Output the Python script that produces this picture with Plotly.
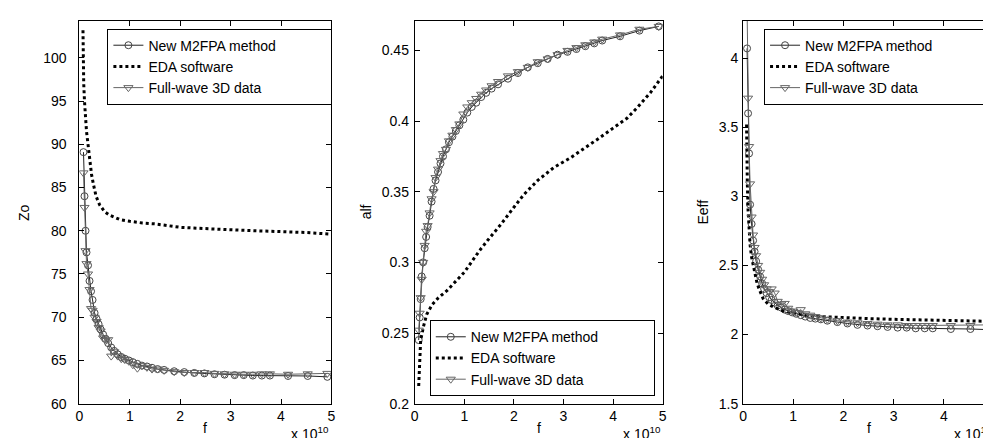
import plotly.graph_objects as go

# ---------------- data (f in units of 1e10 Hz) ----------------
freq = [0.08, 0.10, 0.12, 0.14, 0.17, 0.20, 0.23, 0.26, 0.30, 0.34, 0.38, 0.42,
        0.47, 0.52, 0.57, 0.63, 0.69, 0.76, 0.83, 0.90, 0.98, 1.06, 1.15, 1.24,
        1.34, 1.44, 1.55, 1.68, 1.88, 2.08, 2.28, 2.48, 2.68, 2.88, 3.08, 3.26,
        3.44, 3.62, 3.78, 4.14, 4.53, 4.92]

freq_eda = [0.07, 0.075, 0.085, 0.10, 0.12, 0.14, 0.17, 0.20, 0.24, 0.28, 0.33,
            0.40, 0.50, 0.60, 0.80, 1.00, 1.25, 1.50, 2.00, 2.50, 3.00, 3.50,
            4.00, 4.50, 5.00]

# Zo
zo_m2fpa = [89.1, 84.0, 80.0, 77.5, 76.0, 74.2, 73.0, 72.0, 70.5, 69.8, 69.2, 68.6,
            68.0, 67.5, 67.0, 66.5, 66.1, 65.7, 65.4, 65.2, 65.0, 64.8, 64.6, 64.4,
            64.3, 64.15, 64.0, 63.9, 63.75, 63.65, 63.55, 63.5, 63.4, 63.35, 63.3, 63.3,
            63.25, 63.25, 63.25, 63.2, 63.2, 63.1]
zo_fullwave = [86.7, 82.7, 77.7, 76.2, 75.0, 73.2, 71.0, 70.8, 70.0, 69.5, 68.8, 68.4,
               67.6, 67.3, 67.4, 65.5, 66.0, 65.5, 65.2, 65.1, 64.9, 64.5, 64.1, 64.4,
               64.2, 64.0, 64.0, 63.85, 63.7, 63.6, 63.6, 63.6, 63.5, 63.45, 63.4, 63.4,
               63.4, 63.45, 63.45, 63.4, 63.45, 63.5]
zo_eda = [103.2, 100.0, 97.0, 95.0, 93.0, 91.5, 90.0, 88.5, 86.5, 85.3, 84.0,
          83.0, 82.2, 81.8, 81.3, 81.1, 80.9, 80.8, 80.4, 80.25, 80.1, 80.0,
          79.9, 79.8, 79.6]

# alf
alf_m2fpa = [0.245, 0.261, 0.274, 0.290, 0.300, 0.310, 0.318, 0.325, 0.333, 0.343, 0.352, 0.358,
             0.364, 0.370, 0.375, 0.380, 0.385, 0.389, 0.393, 0.397, 0.401, 0.406, 0.410, 0.413,
             0.417, 0.420, 0.423, 0.426, 0.430, 0.434, 0.438, 0.441, 0.444, 0.447, 0.449, 0.451,
             0.453, 0.455, 0.457, 0.460, 0.464, 0.467]
alf_fullwave = [0.252, 0.264, 0.275, 0.288, 0.300, 0.312, 0.322, 0.326, 0.335, 0.345, 0.350, 0.360,
                0.366, 0.372, 0.377, 0.380, 0.386, 0.390, 0.394, 0.398, 0.405, 0.410, 0.413, 0.416,
                0.419, 0.422, 0.425, 0.428, 0.432, 0.435, 0.438, 0.442, 0.444, 0.447, 0.450, 0.452,
                0.454, 0.456, 0.458, 0.461, 0.465, 0.467]
freq_eda_alf = [0.08, 0.09, 0.10, 0.12, 0.18, 0.24, 0.35, 0.48, 0.65, 0.82, 1.00, 1.14,
                1.30, 1.48, 1.74, 2.00, 2.20, 2.48, 2.80, 3.14, 3.40, 3.68, 4.00, 4.28,
                4.50, 4.75, 5.00]
alf_eda = [0.2125, 0.225, 0.236, 0.245, 0.255, 0.263, 0.270, 0.275, 0.280, 0.286, 0.293, 0.300,
           0.308, 0.316, 0.327, 0.339, 0.348, 0.358, 0.367, 0.374, 0.380, 0.387, 0.395, 0.402,
           0.410, 0.420, 0.432]

# Eeff
eeff_m2fpa = [4.07, 3.60, 3.31, 2.94, 2.80, 2.68, 2.60, 2.53, 2.47, 2.42, 2.37, 2.33,
              2.30, 2.27, 2.25, 2.23, 2.21, 2.195, 2.18, 2.17, 2.16, 2.15, 2.14, 2.13,
              2.12, 2.115, 2.11, 2.10, 2.09, 2.08, 2.07, 2.065, 2.06, 2.055, 2.05, 2.05,
              2.045, 2.045, 2.045, 2.04, 2.04, 2.035]
eeff_fullwave = [4.35, 3.71, 3.36, 3.09, 2.85, 2.72, 2.63, 2.57, 2.50, 2.45, 2.40, 2.36,
                 2.33, 2.31, 2.33, 2.30, 2.24, 2.22, 2.225, 2.19, 2.17, 2.16, 2.18, 2.15,
                 2.14, 2.13, 2.12, 2.11, 2.10, 2.09, 2.085, 2.08, 2.075, 2.07, 2.07, 2.065,
                 2.065, 2.065, 2.065, 2.065, 2.065, 2.07]
eeff_eda = [3.52, 3.30, 3.10, 2.90, 2.75, 2.65, 2.56, 2.50, 2.43, 2.37, 2.32,
            2.26, 2.22, 2.20, 2.17, 2.155, 2.14, 2.13, 2.12, 2.115, 2.11, 2.105,
            2.10, 2.10, 2.095]

# tick labels
x_ticks = [0, 1, 2, 3, 4, 5]
zo_ticks = [60, 65, 70, 75, 80, 85, 90, 95, 100]
alf_ticks = [0.2, 0.25, 0.3, 0.35, 0.4, 0.45]
alf_ticktext = ["0.2", "0.25", "0.3", "0.35", "0.4", "0.45"]
eeff_ticks = [1.5, 2, 2.5, 3, 3.5, 4]
eeff_ticktext = ["1.5", "2", "2.5", "3", "3.5", "4"]

series_names = ["New M2FPA method", "EDA software", "Full-wave 3D data"]
y_titles = ["Zo", "alf", "Eeff"]

# ---------------- layout geometry ----------------
W, H = 991, 438
FONT = "Liberation Sans, Arial, Helvetica, sans-serif"
FS = 14
x_px = [(68, 322), (406, 656), (737, 990)]
y_px = (13, 403)
ydom = [(H - y_px[1]) / H, (H - y_px[0]) / H]
xdoms = [[a / W, b / W] for a, b in x_px]
PAD = "\u00a0" * 13  # widens legend boxes like the reference

fig = go.Figure()

panels = [
    (zo_m2fpa, freq_eda, zo_eda, zo_fullwave),
    (alf_m2fpa, freq_eda_alf, alf_eda, alf_fullwave),
    (eeff_m2fpa, freq_eda, eeff_eda, eeff_fullwave),
]

for i, (ym, fe, ye, yf) in enumerate(panels):
    k = "" if i == 0 else str(i + 1)
    xa, ya, leg = "x" + k, "y" + k, "legend" + k
    fig.add_trace(go.Scatter(
        x=freq, y=ym, mode="lines+markers", name=series_names[0] + PAD,
        line=dict(color="#222222", width=1),
        marker=dict(symbol="circle-open", size=7, color="#444444", line=dict(width=1)),
        xaxis=xa, yaxis=ya, legend=leg))
    fig.add_trace(go.Scatter(
        x=fe, y=ye, mode="lines", name=series_names[1],
        line=dict(color="black", width=3, dash="dot"),
        xaxis=xa, yaxis=ya, legend=leg))
    fig.add_trace(go.Scatter(
        x=freq, y=yf, mode="lines+markers", name=series_names[2],
        line=dict(color="#666666", width=1),
        marker=dict(symbol="triangle-down-open", size=8, color="#666666", line=dict(width=1)),
        xaxis=xa, yaxis=ya, legend=leg))

axis_common = dict(ticks="inside", ticklen=5, tickcolor="black", showline=True,
                   linecolor="black", linewidth=1, mirror="ticks", showgrid=False,
                   zeroline=False, tickfont=dict(family=FONT, size=FS, color="black"))

yranges = [[60, 104.3], [0.2, 0.471], [1.5, 4.27]]
ytickvals = [zo_ticks, alf_ticks, eeff_ticks]
ytexts = [[str(v) for v in zo_ticks], alf_ticktext, eeff_ticktext]
ystandoff = [9, 2, 1]

layout = dict(width=W, height=H, margin=dict(l=0, r=0, t=0, b=0),
              paper_bgcolor="white", plot_bgcolor="white",
              font=dict(family=FONT, size=FS, color="black"), showlegend=True)

legend_pos = [(323, 21), (648, 318), (985, 21)]
for i in range(3):
    k = "" if i == 0 else str(i + 1)
    layout["xaxis" + k] = dict(domain=xdoms[i], range=[0, 5], tickmode="array",
                               tickvals=x_ticks, ticktext=[str(v) for v in x_ticks],
                               anchor="y" + k, **axis_common)
    layout["yaxis" + k] = dict(domain=ydom, range=yranges[i], tickmode="array",
                               tickvals=ytickvals[i], ticktext=ytexts[i],
                               ticklabelstandoff=ystandoff[i],
                               anchor="x" + k, **axis_common)
    lx, ly = legend_pos[i]
    layout["legend" + k] = dict(x=lx / W, y=1 - ly / H, xanchor="right", yanchor="top",
                                bgcolor="white", bordercolor="black", borderwidth=1,
                                font=dict(family=FONT, size=FS, color="black"),
                                traceorder="normal")

annotations = []
for i in range(3):
    a, b = x_px[i]
    annotations.append(dict(text="f", x=(a + b) / 2 / W, y=1 - 428 / H, xref="paper", yref="paper",
                            showarrow=False, xanchor="center", yanchor="middle",
                            font=dict(family=FONT, size=FS, color="black")))
    annotations.append(dict(text="x 10<sup>10</sup>", x=b / W, y=1 - 422 / H, xref="paper",
                            yref="paper", showarrow=False, xanchor="right", yanchor="top",
                            font=dict(family=FONT, size=FS, color="black")))
ytitle_x = [12, 357, 697]
for i in range(3):
    annotations.append(dict(text=y_titles[i], x=ytitle_x[i] / W, y=1 - 208 / H, xref="paper",
                            yref="paper", showarrow=False, textangle=-90,
                            xanchor="center", yanchor="middle",
                            font=dict(family=FONT, size=FS, color="black")))
layout["annotations"] = annotations

fig.update_layout(**layout)
fig.write_html("out.html")
